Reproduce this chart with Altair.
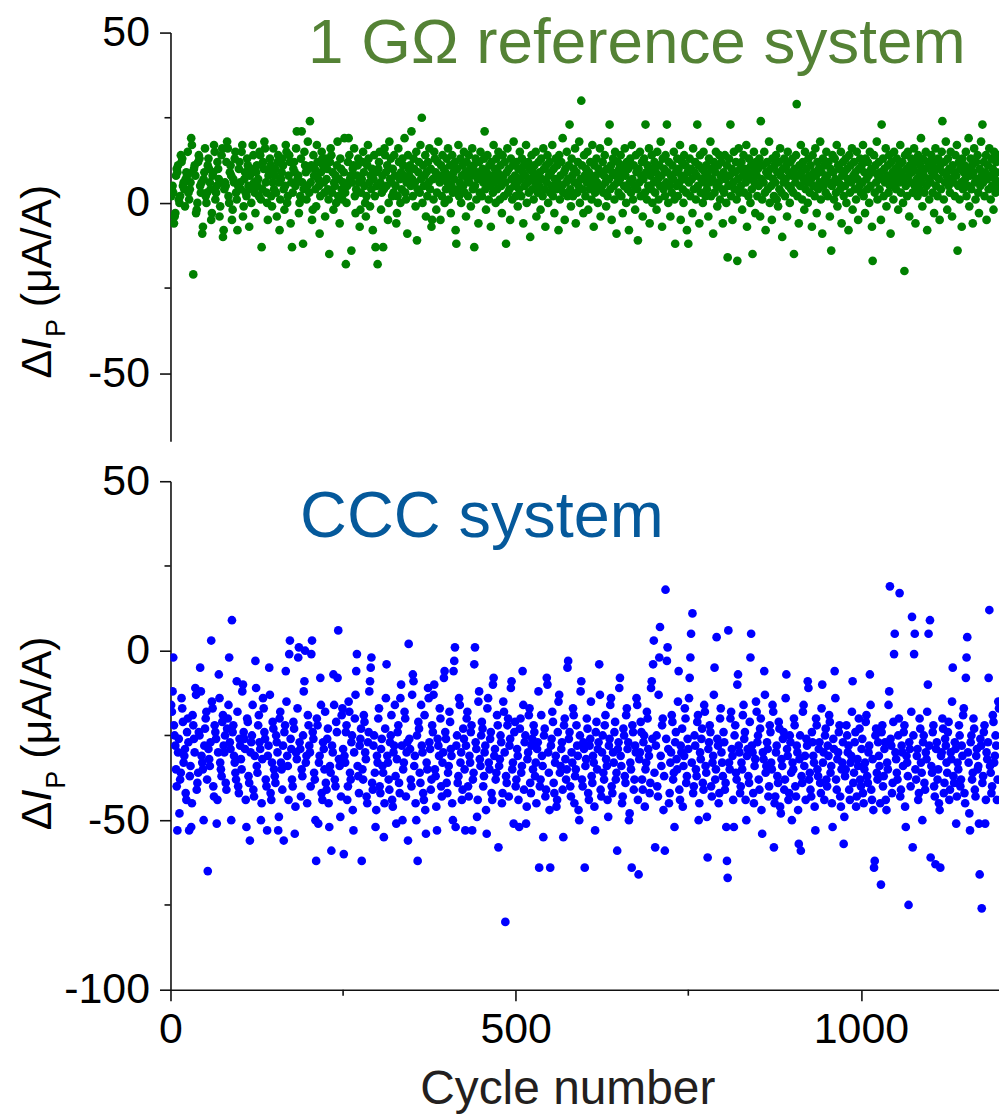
import altair as alt
import pandas as pd

# ---- data (ΔI_P in µA/A per cycle) ----
top_vals = [
    2, 4, 5, 3, -6, -4, -3, 8, 10, 9, 11, 1, 0, 2, 14, 12, 13, 5, 6, 4, -1, 7, 9, 8, 15,
    3, 1, 4, 6, 19, 17, 9, -21, 10, 11, 8, -3, -2, 0, 12, 14, 13, 5, 3, 6, -9, -7, 7, 9, 16,
    2, 0, 3, 11, 13, 10, 6, 4, -5, -3, 8, 9, 17, 15, 1, 3, 5, 12, 10, 7, -4, -1, 6, 14, 16,
    -10, -8, 4, 6, 5, 12, 18, 16, 2, 0, 9, 11, 8, -5, -2, 7, 6, 13, 15, 3, 1, -8, 5, 10, 12,
    6, 4, 15, 17, -4, -1, 7, 9, 3, 2, 13, 11, 5, -7, 8, 10, 0, 4, 17, 14, 6, 3, -3, 9, 11,
    5, 7, 2, 15, 14, 1, -13, 4, 12, 10, 18, 16, 6, 3, 0, -5, 8, 9, 13, 11, 2, -1, 6, 16, 4,
    8, 10, 3, -4, 12, 14, 6, -8, 1, 7, 9, 13, 11, 4, -2, 5, 17, 15, 0, 2, 8, 14, 12, -6, 6,
    -13, 3, 10, 12, 9, 5, 16, 21, 7, 8, -3, 0, 2, 13, 21, 6, -12, 4, 15, 11, 9, 1, 5, 18, 10,
    3, 24, 6, 11, -5, -2, 14, 8, 10, 4, -1, 17, 12, 7, 5, -9, 2, 9, 15, 13, 11, 6, 3, -4, 13,
    7, 10, 4, 1, -15, 12, 16, 14, 3, 9, -2, 6, 5, 8, 0, 11, 18, 2, 7, -6, 13, 10, 4, 1, 6,
    9, 19, 3, -18, 0, 5, 12, 19, 14, 7, 8, -14, 6, 10, 11, 16, 2, -3, 4, 8, 11, 13, 6, -7, -2,
    3, 7, 12, 15, 9, 5, 0, -4, 2, 11, 17, 13, 6, -1, 8, 4, 10, -8, 7, 14, 2, -13, 9, 5, -18,
    10, 12, 15, 6, -2, 3, 8, -13, 4, 16, 14, 9, 5, 11, -5, 0, 18, 7, 13, 6, 2, 10, 3, 14, 8,
    5, -6, -3, 2, 16, 12, 7, 0, 9, 4, 13, 11, 8, 19, 3, 1, 6, -9, 14, 10, 8, 11, 5, 21, 7,
    2, 13, 10, 6, -1, 15, -11, 4, 9, 12, 3, 17, 7, 25, 0, 11, 5, 8, 14, -4, 9, 2, 12, 6, 16,
    4, 10, -7, -5, 7, 1, 15, 13, 9, -2, 3, 12, 18, 8, 6, -5, 11, 2, 14, 7, 10, 0, 9, 4, 13,
    6, 16, 1, 8, 11, -3, 5, 14, 3, 9, 7, 12, -8, -12, 10, 4, 17, 2, 6, 13, 0, 8, 11, 5, 15,
    3, 9, -4, 12, 7, 2, 14, 6, 10, -1, 8, 16, 4, 11, -13, 5, 13, 1, 9, 7, -6, 12, 3, 15, 8,
    2, 10, 6, 13, 21, 4, -2, 9, 14, 7, 1, 11, 5, -7, 12, 8, 3, 17, 6, 10, 0, 13, 4, 9, 15,
    7, 1, 11, 5, -3, 14, 8, 2, 12, 6, -12, 9, 16, 3, 10, 4, -5, 13, 7, 1, 11, 18, 5, 8, 2,
    12, 6, -1, 10, 4, 15, 7, 2, 13, 9, -6, 11, 5, 8, 17, 0, 6, 12, 3, 10, -10, 7, 14, 4, 9,
    1, 11, 6, 15, -4, 8, 3, 12, 5, 9, -2, 13, 7, 2, 16, 10, 4, -7, 11, 6, 14, 0, 8, 12, 3,
    9, 5, 17, 2, 10, -3, 7, 13, 4, 11, 6, -8, 14, 1, 8, 12, 5, 19, 3, 9, -5, 10, 6, 15, 2,
    7, 11, 23, 4, -1, 13, 8, 2, 10, 6, 16, -6, 9, 3, 12, 5, 18, 0, 7, 30, 11, 4, -3, 14, 8,
    2, 10, 6, 15, -2, 9, 4, 12, 7, 1, 17, 5, -7, 11, 3, 8, 13, 6, 0, 10, 4, 16, -4, 9, 5,
    12, 3, 8, 14, 6, -1, 10, 2, 18, 7, 23, 4, 11, -5, 9, 13, 5, 1, 15, 8, -9, 6, 12, 3, 10,
    7, 14, 2, 9, -3, 11, 5, 16, 8, 0, 12, 4, 10, -8, 6, 13, 3, 17, 7, 1, 11, 5, -2, 14, 9,
    4, -11, 10, 6, 15, 2, 8, 12, -4, 7, 13, 3, 23, 9, 1, 11, 5, 16, -6, 8, 4, 14, 0, 10, 6,
    12, 3, 9, -2, 15, 7, 1, 11, 5, 18, 8, -7, 13, 4, 10, 2, 14, 6, 23, 9, 0, 12, 5, -4, 8,
    3, 11, 7, 15, 1, -12, 9, 5, 13, 2, 10, 6, 17, -5, 8, 12, 4, 0, 14, 7, 11, 3, -8, 9, -12,
    6, 13, 2, 10, 7, -3, 16, 4, 9, 12, 1, 8, 23, 5, 11, -6, 14, 3, 7, 10, 0, 15, 6, 9, 2,
    11, 4, 8, -4, 13, 6, 18, 2, 10, 7, -9, 12, 3, 9, 15, 5, -1, 11, 6, 14, 1, 8, 12, 4, -6,
    9, 3, 14, 7, 0, 11, -16, 5, 13, 8, 23, 2, 10, -5, 6, 15, 4, 9, 12, 1, -17, 7, 16, 3, 10,
    5, 12, -2, 8, 14, 3, 10, 6, 17, -7, 9, 2, 13, 7, 0, 11, 4, -15, 9, 15, 6, -3, 12, 8, 2,
    10, 5, 13, -4, 24, 7, 1, 11, 6, 15, 3, -8, 9, 12, 4, 8, 18, 0, 10, 5, -5, 13, 7, 2, 11,
    6, 14, 1, 9, -1, 12, 4, 16, 8, 3, -10, 10, 6, 13, 2, 7, 11, -4, 15, 5, 9, 0, 12, 4, 8,
    13, 3, -15, 10, 6, 14, 29, 2, 8, -6, 11, 5, 17, 9, 1, 12, 7, -2, 15, 4, 10, 6, 0, 13, 8,
    3, 11, 7, -7, 14, 5, 9, 2, 16, 8, -3, 12, 4, 10, 6, 18, 1, 9, -9, 13, 5, 11, 7, 3, 15,
    8, 2, 12, 6, -4, 10, -14, 5, 14, 9, 1, 13, 7, 3, 17, -1, 11, 6, 10, 4, 15, -6, 8, 12, 2,
    9, 5, 13, 0, 10, 7, -8, 14, 3, 11, 6, 16, -2, 8, 12, 4, 9, 1, 15, 7, -5, 10, 5, 13, 3,
    11, 6, 17, 2, 9, -3, 13, 7, 4, 12, 8, 0, 15, 5, 10, -7, -17, 9, 14, 3, 11, 6, 18, 1, 8,
    12, 4, 9, -5, 23, 7, 13, 2, 10, 6, 16, -1, 8, 11, 3, 14, 5, -9, 12, 7, 9, 1, 15, 6, 10,
    4, 13, 8, -2, 11, 6, 17, 3, 9, 12, 0, 7, -20, 14, 5, 10, 2, 15, 8, -4, 11, 6, 13, 9, 3,
    10, 16, 5, -6, 12, 7, 2, 14, 9, 4, 11, 19, 6, -1, 13, 8, 3, 10, 15, 5, -8, 12, 7, 1, 11,
    6, 14, 9, 3, 12, -3, 8, 16, 5, 10, 2, 13, 7, -5, 11, 4, 15, 24, 9, 1, 12, 6, 18, 8, -2,
    13, 5, 10, 3, 15, 7, -4, 11, 6, 9, 2, 14, 8, 17, -14, 5, 12, 1, 10, 6, -7, 13, 4, 9, 11,
    7, 15, 2, 10, 5, 19, -1, 8, 13, 4, 11, -6, 9, 16, 6, 1, 12, 7, 14, 3, -3, 10, 5, 18, 8,
    23, 6, 12, 2, 9, 14, -5, 7, 11, 4, 16, 8, 1, 13, 5, 10, -2, 15, 7, 3, 12, 9, 6, 14, 4,
]

bot_vals = [
    -16, -18, -12, -2, -22, -25, -28, -35, -40, -53, -30, -26, -48, -38, -36, -14, -17, -21, -33, -31, -29, -42, -44, -24, -20,
    -27, -53, -37, -34, -52, -45, -19, -22, -26, -30, -11, -13, -41, -39, -36, -24, -25, -5, -12, -31, -33, -35, -50, -28, -23,
    -20, -18, -38, -65, -29, -32, -34, -27, 3, -15, -17, -40, -43, -22, -24, -26, -51, -44, -30, -7, -14, -33, -35, -37, -21,
    -19, -28, -30, -25, -39, -41, -23, -20, -16, -2, -27, -29, -50, 9, -24, -22, -31, -33, -36, -38, -9, -18, -40, -42, -26,
    -28, -32, -35, -12, -10, -24, -26, -29, -44, -52, -20, -21, -37, -39, -56, -30, -27, -25, -16, -41, -43, -31, -3, -11, -34,
    -36, -22, -19, -27, -29, -50, -45, -32, -14, -17, -24, -26, -38, -40, -53, -31, -28, -5, -13, -42, -44, -33, -21, -23, -35,
    -37, -39, -25, -27, -30, -53, -49, -20, -18, -33, -35, -41, -28, -56, -24, -22, -6, -15, -31, -34, -44, -1, 3, -26, -29,
    -38, -40, -21, -23, -54, -46, -30, -32, -17, -2, 1, -27, -29, -43, -35, -37, -25, -12, -9, 0, -33, -31, -45, -19, -22,
    -28, -30, -40, -1, 3, -24, -26, -36, -38, -50, -62, -20, -22, -51, -33, -31, -8, -16, -42, -44, -27, -29, -35, -18, -39,
    -41, -26, -23, -45, -52, -34, -36, -59, -28, -30, -7, -16, -38, -40, -21, -24, -8, 6, -32, -34, -49, -43, -19, -17, -29,
    -60, -31, -33, -24, -22, -44, -40, -15, -18, -36, -38, -27, -25, -47, -53, -30, -20, -13, -6, -1, -34, -37, -42, -28, -26,
    -23, -62, -35, -38, -19, -21, -30, -32, -43, -45, -27, -24, -12, -9, -5, -2, -39, -41, -28, -25, -36, -52, -47, -31, -33,
    -20, -17, -40, -42, -29, -26, -34, -36, -55, -45, -23, -14, -4, -31, -33, -38, -41, -27, -25, -19, -44, -46, -30, -28, -16,
    -37, -51, -32, -24, -22, -39, -42, -14, -10, -28, -50, -35, -33, -18, -20, -43, -30, -27, -56, 2, -26, -29, -38, -40, -13,
    -7, -9, -34, -31, -45, -50, -25, -62, -21, -23, -36, -39, -16, -28, -30, -42, -44, -19, -47, -54, -33, -35, -11, -14, -27,
    -29, -41, -38, -22, -24, -13, -10, -35, -37, -46, -53, -26, -28, -31, -17, -20, -40, -43, -33, -30, -8, -6, -24, -26, -39,
    -42, -36, -34, -18, -21, -29, -31, -45, -50, -6, -3, 1, -52, -28, -25, -39, -37, -14, -16, -33, -30, -44, -41, -23, -26,
    -35, -53, -28, -20, -18, -40, -43, -31, -33, -24, -22, -53, -38, -36, -4, 1, -27, -29, -49, -44, -15, -12, -32, -34, -25,
    -21, -23, -40, -37, -30, -28, -47, -54, -17, -14, -33, -35, -26, -24, -42, -44, -10, -8, -31, -29, -38, -36, -19, -22, -58,
    -34, -32, -25, -27, -45, -42, -15, -18, -30, -80, -37, -39, -22, -20, -43, -28, -26, -11, -9, -35, -33, -51, -24, -21, -40,
    -38, -29, -31, -44, -52, -23, -20, -36, -34, -6, -16, -41, -27, -25, -51, -46, -32, -30, -19, -17, -39, -42, -28, -26, -35,
    -22, -24, -37, -33, -45, -29, -27, -12, -64, -40, -38, -19, -31, -34, -55, -25, -23, -43, -41, -8, -10, -30, -36, -47, -64,
    -28, -26, -18, -21, -39, -42, -33, -31, -46, -44, -24, -15, -13, -36, -34, -29, -27, -41, -55, -22, -20, -32, -38, -35, -5,
    -3, -26, -24, -40, -43, -30, -33, -17, -19, -45, -37, -35, -22, -28, -31, -47, -50, -25, -12, -9, -38, -40, -27, -29, -64,
    -34, -32, -20, -23, -42, -44, -28, -26, -15, -37, -39, -31, -33, -46, -53, -24, -21, -35, -29, -27, -4, -13, -41, -43, -30,
    -25, -36, -38, -22, -19, -32, -34, -44, -49, -28, -26, -16, -14, -40, -42, -30, -33, -24, -21, -38, -36, -59, -29, -27, -11,
    -8, -31, -34, -45, -43, -23, -25, -37, -39, -19, -17, -29, -27, -50, -48, -33, -35, -64, -22, -24, -41, -38, -28, -30, -14,
    -16, -44, -66, -32, -30, -21, -24, -38, -41, -27, -25, -46, -35, -33, -18, -20, -29, -31, -42, -39, -11, -9, -26, -4, 3,
    -36, -58, -28, -25, -40, -43, -13, -2, 7, -31, -34, -22, -20, -47, -37, -59, 18, -26, -3, 1, -29, -45, -42, -33, -30,
    -19, -21, -38, -36, -52, -27, -24, -32, -35, -15, -6, -41, -44, -28, -30, -23, -46, -34, -31, -17, -20, -39, -37, -26, -29,
    -14, -8, -2, 5, -33, 11, -42, -40, -25, -28, -35, -37, -21, -19, -50, -45, -30, -32, -26, -23, -39, -41, -16, -18, -34,
    -36, -49, -61, -29, -27, -22, -24, -40, -43, -33, -31, -13, -5, -38, -35, 4, -26, -28, -45, -42, -20, -17, -30, -33, -37,
    -24, -27, -41, -39, -52, -62, -67, 6, -33, -35, -20, -18, -29, -31, -44, -52, -25, -22, -36, -38, -10, -7, -28, -30, -42,
    -40, -33, -35, -19, -16, -26, -24, -44, -50, -31, -29, -37, -39, -21, -2, 5, -28, -30, -42, -45, -34, -32, -15, -18, -27,
    -25, -38, -41, -23, -20, -47, -54, -30, -32, -6, -13, -36, -34, -27, -29, -43, -40, -22, -24, -33, -35, -16, -18, -58, -45,
    -43, -30, -28, -37, -39, -21, -23, -46, -48, -32, -34, -26, -24, -41, -38, -14, -7, -29, -31, -44, -42, -25, -27, -36, -50,
    -33, -35, -20, -22, -40, -43, -28, -30, -47, -57, -32, -25, -59, -37, -39, -18, -16, -34, -31, -44, -26, -28, -9, -11, -38,
    -36, -41, -43, -24, -27, -31, -33, -46, -53, -20, -22, -35, -37, -29, -27, -39, -42, -17, -10, -33, -30, -44, -25, -23, -38,
    -40, -28, -31, -19, -21, -36, -34, -45, -52, -26, -29, -6, -14, -38, -41, -32, -30, -24, -22, -43, -46, -35, -33, -27, -57,
    -49, -37, -35, -22, -25, -30, -28, -41, -44, -33, -31, -18, -9, -39, -36, -27, -24, -46, -43, -32, -34, -20, -23, -38, -40,
    -29, -26, -42, -45, -35, -33, -21, -19, -37, -39, -30, -28, -7, -16, -41, -44, -32, -47, -64, -62, -25, -23, -36, -38, -27,
    -31, -34, -45, -69, -24, -22, -40, -37, -29, -27, -44, -47, -33, -35, -16, -12, 19, -26, -28, -42, -39, -21, -1, 5, -30,
    -32, -36, -38, -25, -20, 17, -43, -41, -28, -30, -34, -24, -22, -46, -52, -31, -33, -37, -75, -27, -29, -40, -18, 10, -58,
    -25, -1, 5, -35, -38, -31, -29, -44, -42, -20, -23, -33, -36, -50, -27, -25, -39, -41, -30, -32, -18, -10, 5, -28, 9,
    -61, -34, -36, -24, -22, -40, -43, -63, -29, -27, -38, -35, -45, -47, -64, -31, -30, -20, -23, -42, -39, -26, -28, -33, -36,
    -24, -21, -44, -41, -30, -32, -15, -5, -37, -39, -27, -29, -51, -43, -33, -35, -22, -25, -40, -38, -28, -31, -19, -17, -42,
    -45, -8, -2, 4, -30, -33, -48, -53, -27, -25, -38, -36, -20, -23, -41, -43, -31, -29, -35, -34, -51, -66, -26, -28, -76,
    -39, -37, -24, -22, -51, -44, -30, -32, -27, -8, 12, -34, -36, -42, -40, -19, -21, -33, -31, -25, -28, -44, -38, -15, -17,
]

x_major = [0, 500, 1000]
x_minor = [250, 750]
top_major = [-50, 0, 50]
top_minor = [-25, 25]
bot_major = [-100, -50, 0, 50]
bot_minor = [-75, -25, 25]
top_title = "1 GΩ reference system"
bot_title = "CCC system"
x_title = "Cycle number"

# ---- layout / style ----
FONT = "Liberation Sans"
W, HT, HB = 831, 410, 510
GREEN_PT, BLUE_PT = "#008000", "#0000FF"
GREEN_TXT, BLUE_TXT = "#548235", "#05599B"
INK = "#111111"
DOT = 76

top_df = pd.DataFrame({"cycle": list(range(1, len(top_vals) + 1)), "dI": top_vals})
bot_df = pd.DataFrame({"cycle": list(range(1, len(bot_vals) + 1)), "dI": bot_vals})

x_scale = alt.Scale(domain=[0, 1200], nice=False, zero=False)
top_y = alt.Scale(domain=[-70, 50], nice=False, zero=False)
bot_y = alt.Scale(domain=[-100, 50], nice=False, zero=False)

HYPHEN_LABEL = "'' + datum.value"


def y_axis(vals):
    return alt.Axis(values=vals, tickSize=11, labelPadding=10, labelFontSize=43,
                    labelFont=FONT, labelColor="#000000", domainColor=INK,
                    tickColor=INK, domainWidth=1.6, tickWidth=1.6, grid=False,
                    title=None, labelFlush=False, labelOverlap=False,
                    labelExpr=HYPHEN_LABEL)


x_axis = alt.Axis(values=x_major, tickSize=11, labelPadding=8, labelFontSize=43,
                  labelFont=FONT, labelColor="#000000", domainColor=INK,
                  tickColor=INK, domainWidth=1.6, tickWidth=1.6, grid=False,
                  title=x_title, titleFont=FONT, titleFontSize=48,
                  titleFontWeight="normal", titleColor="#231F20", titlePadding=14,
                  titleX=398, titleAlign="center",
                  labelFlush=False, labelOverlap=False, labelExpr=HYPHEN_LABEL)


def txt(s, x, y, size, color="#000000", style="normal", angle=0, align="left"):
    return alt.Chart(pd.DataFrame({"t": [s]})).mark_text(
        font=FONT, fontSize=size, fontStyle=style, color=color, angle=angle,
        align=align, baseline="alphabetic").encode(
        x=alt.value(x), y=alt.value(y), text="t:N")


def ylabel(y0):
    # rotated "ΔI_P (μA/A)" built from pieces, reading upward from y0
    fs, sub = 43, 27
    parts = []
    y = y0
    parts.append(txt("Δ", -120, y, fs, angle=270))
    y -= 0.668 * fs
    parts.append(txt("I", -120, y, fs, style="italic", angle=270))
    y -= 0.30 * fs
    parts.append(txt("P", -106, y, sub, angle=270))
    y -= 0.667 * sub + 0.278 * fs
    parts.append(txt("(μA/A)", -120, y, fs, angle=270))
    return parts


def minor_y(vals, scale, axis):
    return alt.Chart(pd.DataFrame({"dI": vals})).mark_rule(
        color=INK, strokeWidth=1.6).encode(
        y=alt.Y("dI:Q", scale=scale, axis=axis),
        x=alt.value(-6), x2=alt.value(0))


top_axis = y_axis(top_major)
bot_axis = y_axis(bot_major)

top_pts = alt.Chart(top_df).mark_circle(size=DOT, opacity=1, color=GREEN_PT, clip=True).encode(
    x=alt.X("cycle:Q", scale=x_scale, axis=None),
    y=alt.Y("dI:Q", scale=top_y, axis=top_axis))

top = alt.layer(
    top_pts, minor_y(top_minor, top_y, top_axis),
    txt(top_title, 138, 31, 64, color=GREEN_TXT),
    *ylabel(347),
).properties(width=W, height=HT)

bot_pts = alt.Chart(bot_df).mark_circle(size=DOT, opacity=1, color=BLUE_PT, clip=True).encode(
    x=alt.X("cycle:Q", scale=x_scale, axis=x_axis),
    y=alt.Y("dI:Q", scale=bot_y, axis=bot_axis))

minor_x = alt.Chart(pd.DataFrame({"cycle": x_minor})).mark_rule(
    color=INK, strokeWidth=1.6).encode(
    x=alt.X("cycle:Q", scale=x_scale, axis=x_axis),
    y=alt.value(HB), y2=alt.value(HB + 6))

bottom = alt.layer(
    bot_pts, minor_y(bot_minor, bot_y, bot_axis), minor_x,
    txt(bot_title, 130, 56, 65, color=BLUE_TXT),
    *ylabel(350),
).properties(width=W, height=HB)

chart = alt.vconcat(top, bottom, spacing=40, bounds="flush").configure_view(
    stroke=None).properties(padding={"left": 16, "top": 10, "right": 0, "bottom": 0},
                            background="white")

chart.save("out.html", embed_options={"renderer": "svg", "actions": False})
